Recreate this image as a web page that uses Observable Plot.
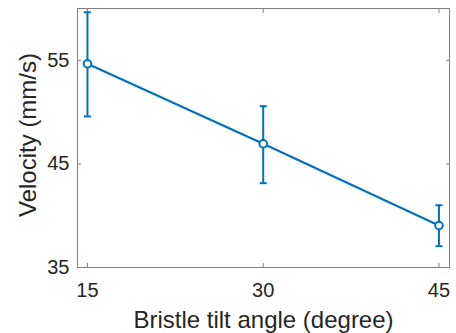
<!DOCTYPE html>
<html>
<head>
<meta charset="utf-8">
<script src="https://cdn.jsdelivr.net/npm/d3@7"></script>
<script src="https://cdn.jsdelivr.net/npm/@observablehq/plot@0.6"></script>
<style>
  html, body { margin: 0; padding: 0; background: #fff; }
  svg { display: block; }
</style>
</head>
<body>
<div id="chart"></div>
<script>
// Data
const angles = [15, 30, 45];
const velocity = [54.66, 46.94, 39.05];
const errLow = [49.58, 43.14, 37.06];
const errHigh = [59.64, 50.57, 41.01];
const xTicks = [15, 30, 45];
const yTicks = [35, 45, 55];
const xLabel = "Bristle tilt angle (degree)";
const yLabel = "Velocity (mm/s)";

const rows = angles.map((a, i) => ({angle: a, v: velocity[i], lo: errLow[i], hi: errHigh[i]}));

const blue = "#0072BD";
const font = "'Liberation Sans', Arial, Helvetica, sans-serif";

// horizontal cap symbol for error bars
const capSymbol = {
  draw(context, size) {
    const w = Math.sqrt(size / Math.PI);
    context.moveTo(-w, 0);
    context.lineTo(w, 0);
  }
};

const chart = Plot.plot({
  width: 456,
  height: 333,
  marginTop: 8,
  marginRight: 7,
  marginBottom: 66,
  marginLeft: 77,
  style: {fontFamily: font, color: "#262626", background: "#fff"},
  x: {domain: [14.15, 45.9], label: null},
  y: {domain: [35, 60], label: null},
  marks: [
    Plot.frame({stroke: "#808080", strokeWidth: 1}),
    Plot.axisX(xTicks, {anchor: "bottom", tickSize: -4, tickPadding: 19, fontSize: 20, stroke: "#808080", fill: "#262626", label: null}),
    Plot.axisX(xTicks, {anchor: "top", tickSize: -4, tickFormat: () => "", stroke: "#808080", label: null}),
    Plot.axisY(yTicks, {anchor: "left", tickSize: -4, tickPadding: 12, fontSize: 20, stroke: "#808080", fill: "#262626", label: null}),
    Plot.axisY(yTicks, {anchor: "right", tickSize: -4, tickFormat: () => "", stroke: "#808080", label: null}),
    Plot.ruleX(rows, {x: "angle", y1: "lo", y2: "hi", stroke: blue, strokeWidth: 2}),
    Plot.dot(rows, {x: "angle", y: "lo", symbol: capSymbol, r: 3.5, stroke: blue, strokeWidth: 2}),
    Plot.dot(rows, {x: "angle", y: "hi", symbol: capSymbol, r: 3.5, stroke: blue, strokeWidth: 2}),
    Plot.line(rows, {x: "angle", y: "v", stroke: blue, strokeWidth: 2.2}),
    Plot.dot(rows, {x: "angle", y: "v", r: 3.8, fill: "white", stroke: blue, strokeWidth: 2}),
    Plot.text([xLabel], {frameAnchor: "bottom", dy: 53, textAnchor: "middle", lineAnchor: "middle", fontSize: 24, fill: "#262626"}),
    Plot.text([yLabel], {frameAnchor: "left", dx: -49, dy: -3, textAnchor: "middle", lineAnchor: "middle", rotate: -90, fontSize: 24, fill: "#262626"})
  ]
});

document.getElementById("chart").appendChild(chart);
</script>
</body>
</html>
